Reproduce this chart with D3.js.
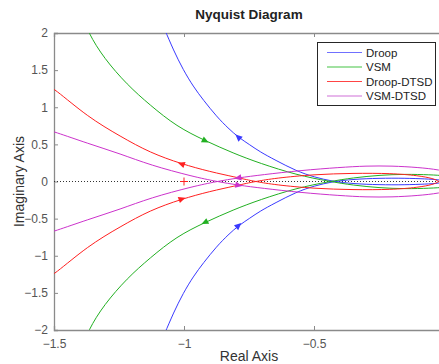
<!DOCTYPE html>
<html lang="en">

<head>
    <meta charset="UTF-8">
    <script src="https://d3js.org/d3.v7.min.js"></script>
    <title>Nyquist Diagram</title>
    <style>
        body { margin: 0; background: #fff; }
        text { font-family: "Liberation Sans", Arial, sans-serif; }
    </style>
</head>

<body>
    <div id="chart"></div>
    <script>

        // tick values
        const realTicks = [-1.5, -1, -0.5];
        const imagTicks = [-2, -1.5, -1, -0.5, 0, 0.5, 1, 1.5, 2];

        // series names
        const seriesNames = ["Droop", "VSM", "Droop-DTSD", "VSM-DTSD"];

        // upper-left branch of each curve [re, im]; the other branch is its mirror image
        const droop = [[-1.12, 2.4], [-1.073, 2.04], [-1.041, 1.772], [-1.003, 1.503], [-0.964, 1.278],
            [-0.926, 1.098], [-0.874, 0.873], [-0.83, 0.717], [-0.791, 0.596], [-0.746, 0.492], [-0.708, 0.40],
            [-0.65, 0.29], [-0.567, 0.14], [-0.5, 0.06], [-0.427, 0],
            [-0.35, -0.03], [-0.25, -0.045], [-0.15, -0.045], [-0.07, -0.035], [-0.02, -0.025], [0.01, 0]];
        const vsm = [[-1.40, 2.3], [-1.368, 2.0], [-1.308, 1.66], [-1.218, 1.30], [-1.131, 1.03], [-1.028, 0.739],
            [-0.919, 0.55], [-0.81, 0.38], [-0.708, 0.245], [-0.567, 0.088], [-0.44, 0], [-0.35, -0.05],
            [-0.25, -0.085], [-0.15, -0.10], [-0.05, -0.09], [0.0, -0.08], [0.05, -0.05], [0.08, 0]];
        const droopDtsd = [[-1.55, 1.35], [-1.5, 1.256], [-1.372, 0.873], [-1.243, 0.604], [-1.131, 0.388],
            [-1.009, 0.236], [-0.9, 0.132], [-0.797, 0.055], [-0.76, 0.025], [-0.725, 0], [-0.65, -0.045],
            [-0.5, -0.095], [-0.35, -0.112], [-0.2, -0.11], [-0.1, -0.08], [-0.04, -0.04], [-0.02, 0]];
        const vsmDtsd = [[-1.55, 0.72], [-1.5, 0.672], [-1.372, 0.515], [-1.243, 0.371], [-1.131, 0.222],
            [-0.964, 0.065], [-0.874, 0], [-0.791, -0.05], [-0.7, -0.09], [-0.55, -0.15],
            [-0.4, -0.19], [-0.3, -0.21], [-0.2, -0.21], [-0.1, -0.19], [-0.02, -0.16], [0.05, -0.1], [0.1, 0]];

        // arrow spots on the upper-left branch [re, im, direction on upper, direction on mirror]
        const droopArrows = [[-0.791, 0.596, -1, 1]];
        const vsmArrows = [[-0.919, 0.55, 1, -1]];
        const droopDtsdArrows = [[-1.009, 0.236, -1, 1]];
        const vsmDtsdArrows = [[-0.791, -0.05, 1, -1]];

        const branches = [droop, vsm, droopDtsd, vsmDtsd];
        const arrows = [droopArrows, vsmArrows, droopDtsdArrows, vsmDtsdArrows];
        const colors = ["#3a3aff", "#22b022", "#ff2020", "#cc33cc"];
        const legendColors = ["#7070ff", "#44c444", "#ff4444", "#d070d8"];

        const W = 439, H = 364;
        const margin = { left: 54, right: 444, top: 33, bottom: 330 };

        const svg = d3.select("#chart")
            .append("svg")
            .attr("width", W)
            .attr("height", H);

        const x = d3.scaleLinear().domain([-1.5, 0]).range([margin.left, margin.right]);
        const y = d3.scaleLinear().domain([-2, 2]).range([margin.bottom, margin.top]);

        svg.append("clipPath").attr("id", "plot")
            .append("rect")
            .attr("x", margin.left).attr("y", margin.top)
            .attr("width", margin.right - margin.left).attr("height", margin.bottom - margin.top);

        // axes
        const axisColor = "#8a8a8a";
        const tickText = "#555";

        const xb = svg.append("g")
            .attr("transform", `translate(0,${margin.bottom})`)
            .call(d3.axisBottom(x).tickValues(realTicks).tickSize(-4).tickPadding(9.5).tickFormat(d3.format("")));
        const xt = svg.append("g")
            .attr("transform", `translate(0,${margin.top})`)
            .call(d3.axisTop(x).tickValues(realTicks).tickSize(-4).tickFormat(""));
        const yl = svg.append("g")
            .attr("transform", `translate(${margin.left},0)`)
            .call(d3.axisLeft(y).tickValues(imagTicks).tickSize(-4).tickPadding(6).tickFormat(d3.format("")));

        [xb, xt, yl].forEach(g => {
            g.select(".domain").attr("stroke", axisColor).attr("stroke-width", 1.3);
            g.selectAll(".tick line").attr("stroke", axisColor);
            g.selectAll(".tick text")
                .attr("fill", tickText)
                .style("font-size", "12px")
                .style("font-family", "\"Liberation Sans\", Arial, sans-serif");
        });

        const plot = svg.append("g").attr("clip-path", "url(#plot)");

        // dotted real axis
        plot.append("line")
            .attr("x1", margin.left).attr("x2", margin.right)
            .attr("y1", y(0)).attr("y2", y(0))
            .attr("stroke", "#333")
            .attr("stroke-width", 1)
            .attr("stroke-dasharray", "1,2");

        const line = d3.line()
            .x(d => x(d[0]))
            .y(d => y(d[1]))
            .curve(d3.curveBasis);

        const mirror = pts => pts.map(d => [d[0], -d[1]]);

        branches.forEach((b, i) => {
            [b, mirror(b)].forEach(pts => {
                plot.append("path")
                    .attr("d", line(pts))
                    .attr("fill", "none")
                    .attr("stroke", colors[i])
                    .attr("stroke-width", 1);
            });
        });

        // direction arrows
        const tangent = (pts, re) => {
            for (let k = 0; k < pts.length - 1; k++) {
                if (re >= pts[k][0] && re <= pts[k + 1][0]) {
                    return [x(pts[k + 1][0]) - x(pts[k][0]), y(pts[k + 1][1]) - y(pts[k][1])];
                }
            }
            return [1, 0];
        };

        arrows.forEach((list, i) => {
            const b = branches[i];
            list.forEach(a => {
                [[b, a[1], a[2]], [mirror(b), -a[1], a[3]]].forEach(([pts, im, dir]) => {
                    const t = tangent(pts, a[0]);
                    const ang = Math.atan2(t[1] * dir, t[0] * dir) * 180 / Math.PI;
                    plot.append("path")
                        .attr("d", "M4,0 L-3,-3.2 L-3,3.2 Z")
                        .attr("fill", colors[i])
                        .attr("transform", `translate(${x(a[0])},${y(im)}) rotate(${ang})`);
                });
            });
        });

        // critical point -1
        const crit = [[-1, 0]];
        plot.selectAll(".crit").data(crit).join("path")
            .attr("class", "crit")
            .attr("d", "M-4,0 H4 M0,-4 V4")
            .attr("stroke", "#ff2020")
            .attr("stroke-width", 1)
            .attr("transform", d => `translate(${x(d[0])},${y(d[1])})`);

        // labels
        svg.append("text")
            .attr("x", 249).attr("y", 19)
            .attr("text-anchor", "middle")
            .attr("font-weight", "bold")
            .attr("font-size", 13.5)
            .attr("fill", "#222")
            .text("Nyquist Diagram");

        svg.append("text")
            .attr("x", 249).attr("y", 361)
            .attr("text-anchor", "middle")
            .attr("font-size", 14)
            .attr("fill", "#333")
            .text("Real Axis");

        svg.append("text")
            .attr("transform", `translate(24,${(margin.top + margin.bottom) / 2}) rotate(-90)`)
            .attr("text-anchor", "middle")
            .attr("font-size", 14)
            .attr("fill", "#333")
            .text("Imaginary Axis");

        // legend
        const lg = svg.append("g");
        lg.append("rect")
            .attr("x", 317.5).attr("y", 42.5)
            .attr("width", 118).attr("height", 63)
            .attr("fill", "#fff")
            .attr("stroke", "#262626")
            .attr("stroke-width", 1);

        seriesNames.forEach((n, i) => {
            const ly = 52.5 + i * 14.5;
            lg.append("line")
                .attr("x1", 327).attr("x2", 362)
                .attr("y1", ly).attr("y2", ly)
                .attr("stroke", legendColors[i])
                .attr("stroke-width", 1.2);
            lg.append("text")
                .attr("x", 366).attr("y", ly + 4)
                .attr("font-size", 11.5)
                .attr("fill", "#222")
                .text(n);
        });

    </script>
</body>

</html>
